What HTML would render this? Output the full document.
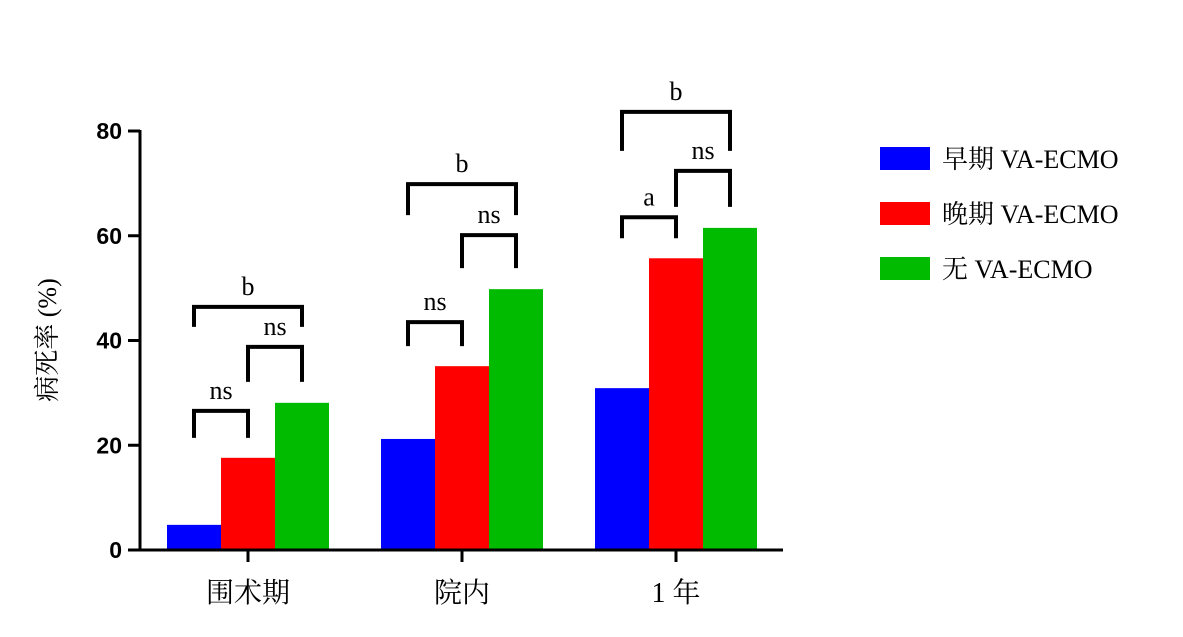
<!DOCTYPE html>
<html><head><meta charset="utf-8"><style>
html,body{margin:0;padding:0;background:#fff;}
svg{display:block;}
</style></head><body>
<svg id="chart" width="1183" height="637" xmlns="http://www.w3.org/2000/svg">
<g id="plot"></g>
</svg>
<script>
const categories = ["围术期", "院内", "1 年"];
const seriesNames = ["早期 VA-ECMO", "晚期 VA-ECMO", "无 VA-ECMO"];
const earlyValues = [4.8, 21.2, 30.9];
const lateValues = [17.6, 35.1, 55.7];
const noneValues = [28.1, 49.8, 61.5];
const yTicks = [0, 20, 40, 60, 80];
const sigLabels = [["ns","ns","b"],["ns","ns","b"],["a","ns","b"]];
const colors = ["#0000ff","#ff0000","#00bb00"];

const NS="http://www.w3.org/2000/svg";
const g=document.getElementById('plot');
const y0=550, yTop=131, yMax=80;
function yScale(v){return y0-(v/yMax)*(y0-yTop);}
const groupStart=[167,381,595], barW=54;
function xBar(gi,si){return groupStart[gi]+si*barW;}
function mk(tag,attrs,name,text){const e=document.createElementNS(NS,tag);for(const k in attrs)e.setAttribute(k,attrs[k]);


if(text!==undefined)e.textContent=text;g.appendChild(e);return e;}

const series=[earlyValues,lateValues,noneValues];
series.forEach((vals,si)=>vals.forEach((v,gi)=>{
 mk('rect',{x:xBar(gi,si),y:yScale(v),width:barW,height:y0-yScale(v),fill:colors[si]},'bar-'+si+'-'+gi);
}));
// axes
mk('line',{x1:140,y1:y0+1,x2:140,y2:yTop-1,stroke:'#000','stroke-width':3},'y-axis-line');
mk('line',{x1:139,y1:y0,x2:783,y2:y0,stroke:'#000','stroke-width':3},'x-axis-line');
yTicks.forEach(t=>{
 mk('line',{x1:128,y1:yScale(t),x2:140,y2:yScale(t),stroke:'#000','stroke-width':3},'y-tick');
 mk('text',{x:122,y:yScale(t)+8,'text-anchor':'end','font-family':'Liberation Sans, sans-serif','font-size':23,'font-weight':'bold'},'y-tick-label',String(t));
});
categories.forEach((c,gi)=>{
 const cx=groupStart[gi]+barW*1.5;
 mk('line',{x1:cx,y1:y0,x2:cx,y2:y0+12,stroke:'#000','stroke-width':3},'x-tick');
 mk('text',{x:cx,y:602,'text-anchor':'middle','font-family':'Liberation Serif, Noto Serif CJK SC, serif','font-size':28},'x-tick-label',c);
});
mk('text',{x:0,y:0,transform:'translate(56,340) rotate(-90)','text-anchor':'middle','font-family':'Liberation Serif, Noto Serif CJK SC, serif','font-size':26},'y-axis-title','病死率 (%)');
// significance brackets: pairs (s1,s2), height above max
const pairs=[[0,1],[1,2],[0,2]];
const gaps=[[27,35,20],[24,33,31],[21,36,39]];
categories.forEach((c,gi)=>{
 let prevTop=null;
 pairs.forEach((p,pi)=>{
  const a=series[p[0]][gi], b=series[p[1]][gi];
  const x1=xBar(gi,p[0])+barW/2, x2=xBar(gi,p[1])+barW/2;
  const legBottom = pi===2 ? null : null;
  let top, bottom;
  if(pi===0){bottom=yScale(b)-20; top=bottom-gaps[gi][0];}
  else if(pi===1){bottom=yScale(b)-21; top=bottom-gaps[gi][1];}
  else {bottom=prevTop-20; top=bottom-gaps[gi][2];}
  prevTop = pi===1?top:prevTop;
  if(pi===0) prevTop=prevTop;
  mk('path',{d:`M${x1},${bottom} L${x1},${top} L${x2},${top} L${x2},${bottom}`,fill:'none',stroke:'#000','stroke-width':4},'significance-bracket');
  mk('text',{x:(x1+x2)/2,y:top-12,'text-anchor':'middle','font-family':'Liberation Serif, serif','font-size':26},'significance-label',sigLabels[gi][pi]);
 });
});
// legend
seriesNames.forEach((n,i)=>{
 const y=147+i*55;
 mk('rect',{x:880,y:y,width:50,height:23,fill:colors[i]},'legend-swatch-'+i);
 mk('text',{x:942,y:y+21,'font-family':'Liberation Serif, Noto Serif CJK SC, serif','font-size':26},'legend-entry-'+i,n);
});
</script>
</body></html>
